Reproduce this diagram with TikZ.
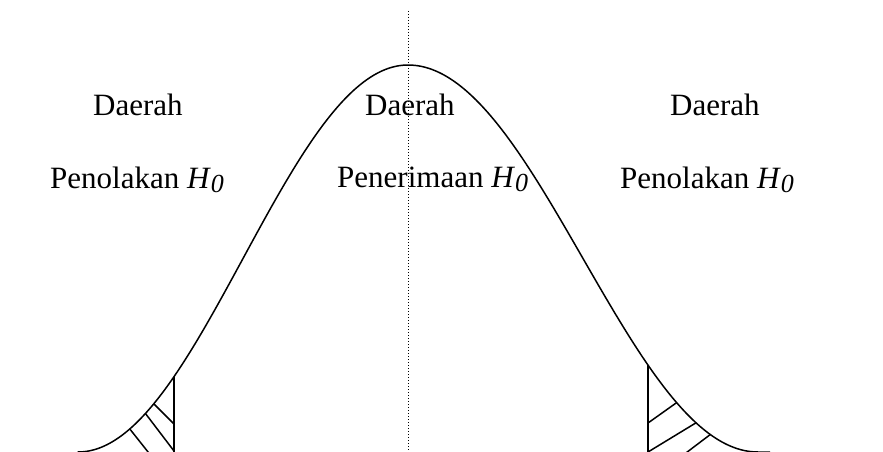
\documentclass[tikz,border=0pt]{standalone}
\usepackage{fontspec}
\setmainfont{Liberation Serif}
\newcommand\hzero{\textit{H}\raisebox{-4pt}{\fontsize{26}{26}\selectfont\itshape 0}}
\begin{document}
\begin{tikzpicture}[x=1pt,y=-1pt,
  lbl/.style={anchor=base west,inner sep=0pt,font=\fontsize{31}{37}\selectfont},
  curve/.style={line width=1.5pt,line join=round},
  hatch/.style={line width=1.5pt},
  axisline/.style={line width=1pt,dash pattern=on 1pt off 2pt},
  declare function={
    lefty(\t)=452-193.5*(1+cos((\t-408)*0.545455));
    righty(\t)=452-193.5*(1+cos((\t-408)*0.514286));
  }]
\useasboundingbox (0,0) rectangle (883,452);
\fill[white] (0,0) rectangle (883,452);
% axis of symmetry
\coordinate (axtop) at (408,11);
\coordinate (axbot) at (408,452);
\draw[axisline] (axtop) -- (axbot);
% bell curve
\coordinate (cl) at (78,452);
\coordinate (cr) at (770,452);
\draw[curve] (cl) -- plot[domain=78:408,samples=150] (\x,{lefty(\x)})
  -- plot[domain=408:758,samples=150] (\x,{righty(\x)}) -- (cr);
% left rejection region
\coordinate (lt) at (174,{lefty(174)});
\coordinate (lb) at (174,452);
\draw[hatch] (lt) -- (lb);
\begin{scope}
  \clip plot[domain=70:174,samples=60] (\x,{lefty(\x)}) -- (174,460) -- (70,460) -- cycle;
  \draw[hatch] (134,384) -- (174,424);
  \draw[hatch] (123,384) -- (174,451);
  \draw[hatch] (110,404) -- (156,462);
\end{scope}
% right rejection region
\coordinate (rt) at (648,{righty(648)});
\coordinate (rb) at (648,452);
\draw[hatch] (rt) -- (rb);
\begin{scope}
  \clip plot[domain=648:758,samples=60] (\x,{righty(\x)}) -- (780,452) -- (780,460) -- (648,460) -- cycle;
  \draw[hatch] (648,423) -- (700,386);
  \draw[hatch] (648,452) -- (722,407);
  \draw[hatch] (674,462) -- (740,412);
\end{scope}
% labels
\node[lbl] (l1) at (93,115) {Daerah};
\node[lbl] (l2) at (50,188) {Penolakan \hzero};
\node[lbl] (m1) at (365,115) {Daerah};
\node[lbl] (m2) at (337,187) {Penerimaan \hzero};
\node[lbl] (r1) at (670,115) {Daerah};
\node[lbl] (r2) at (620,188) {Penolakan \hzero};
\end{tikzpicture}
\end{document}
